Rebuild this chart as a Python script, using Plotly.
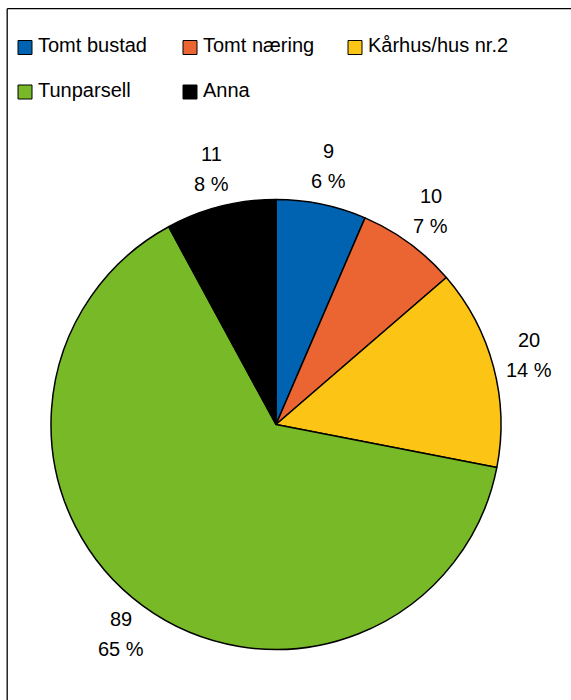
import math
import plotly.graph_objects as go

# ---- data ----
categories = ["Tomt bustad", "Tomt næring", "Kårhus/hus nr.2", "Tunparsell", "Anna"]
values = [9, 10, 20, 89, 11]
pct_labels = ["6 %", "7 %", "14 %", "65 %", "8 %"]
colors = ["#0063B1", "#EB6532", "#FCC516", "#78B928", "#000000"]

# ---- layout constants (pixels) ----
W, H = 571, 700
CX, CY, R = 276, 424.5, 225
FONT = "Liberation Sans, Arial, sans-serif"
FS = 20


def px(x):
    return x / W


def py(y):
    return 1 - y / H


fig = go.Figure(
    go.Pie(
        labels=categories,
        values=values,
        sort=False,
        direction="clockwise",
        rotation=0,
        marker=dict(colors=colors, line=dict(color="black", width=1.5)),
        textinfo="none",
        hoverinfo="none",
        showlegend=False,
        domain=dict(x=[px(CX - R), px(CX + R)], y=[py(CY + R), py(CY - R)]),
    )
)

# ---- data labels outside the pie (centred on a ring, at each slice's mid-angle) ----
RL = 262
total = sum(values)
cum = 0
for v, p in zip(values, pct_labels):
    mid = (cum + v / 2) / total * 2 * math.pi
    cum += v
    bx = CX + RL * math.sin(mid)
    by = CY - RL * math.cos(mid)
    for txt, dy in ((str(v), -17), (p, 13)):
        fig.add_annotation(
            x=px(bx), y=py(by + dy), xref="paper", yref="paper",
            text=txt, showarrow=False, xanchor="center", yanchor="middle",
            font=dict(family=FONT, size=FS, color="black"),
        )

# ---- legend (3 columns) ----
shapes = []
for i, (name, col) in enumerate(zip(categories, colors)):
    c, r = i % 3, i // 3
    x0 = 18 + 165 * c
    yc = 47.5 + 44.5 * r
    shapes.append(dict(
        type="rect", xref="paper", yref="paper",
        x0=px(x0), x1=px(x0 + 14),
        y0=py(yc + 7), y1=py(yc - 7),
        fillcolor=col, line=dict(color="black", width=1),
    ))
    fig.add_annotation(
        x=px(x0 + 17.5), y=py(yc - 2), xref="paper", yref="paper",
        text=name, showarrow=False, xanchor="left", yanchor="middle",
        font=dict(family=FONT, size=FS, color="black"),
    )

# ---- chart frame (only left and top edges fall inside the picture) ----
fx, fy = px(7.2), py(8.7)
shapes.append(dict(type="line", xref="paper", yref="paper",
                   x0=fx, x1=fx, y0=0, y1=fy,
                   line=dict(color="black", width=1.3)))
shapes.append(dict(type="line", xref="paper", yref="paper",
                   x0=fx, x1=1, y0=fy, y1=fy,
                   line=dict(color="black", width=1.3)))

fig.update_layout(
    width=W, height=H,
    margin=dict(l=0, r=0, t=0, b=0),
    paper_bgcolor="white", plot_bgcolor="white",
    shapes=shapes,
    font=dict(family=FONT, size=FS, color="black"),
)

fig.write_html(
    "out.html",
    config={"displayModeBar": False},
    post_script="document.body.style.margin='0';document.body.style.overflow='hidden';",
)
